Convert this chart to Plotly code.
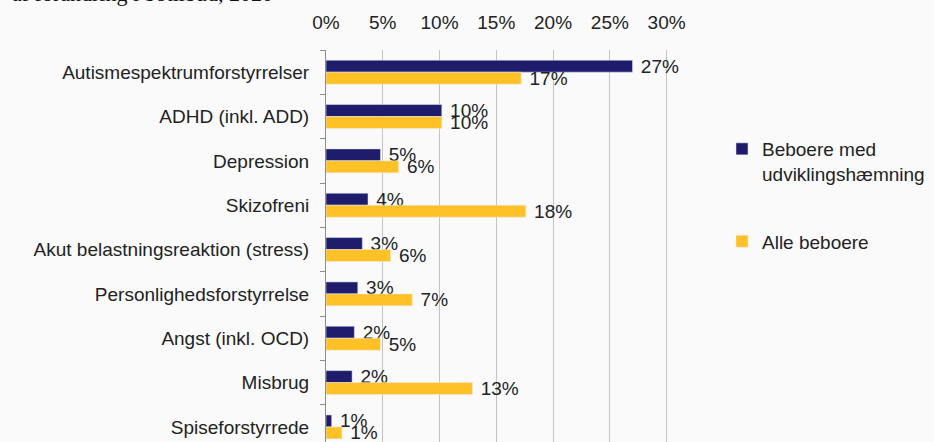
import plotly.graph_objects as go

categories = [
    "Autismespektrumforstyrrelser",
    "ADHD (inkl. ADD)",
    "Depression",
    "Skizofreni",
    "Akut belastningsreaktion (stress)",
    "Personlighedsforstyrrelse",
    "Angst (inkl. OCD)",
    "Misbrug",
    "Spiseforstyrrede",
]
udv_values = [27.0, 10.2, 4.8, 3.7, 3.2, 2.8, 2.5, 2.3, 0.5]
udv_labels = ["27%", "10%", "5%", "4%", "3%", "3%", "2%", "2%", "1%"]
alle_values = [17.2, 10.2, 6.4, 17.6, 5.7, 7.6, 4.8, 12.9, 1.4]
alle_labels = ["17%", "10%", "6%", "18%", "6%", "7%", "5%", "13%", "1%"]
x_ticks = [0, 5, 10, 15, 20, 25, 30]

NAVY = "#1f1d6b"
YELLOW = "#ffc126"
BG = "#fafafa"
FONT = "Liberation Sans, Arial, sans-serif"
FS = 19

W, H = 934, 442
ML, MR, MT, MB = 326, 264, 50, 0
PW, PH = W - ML - MR, H - MT - MB

fig = go.Figure()
fig.add_trace(
    go.Bar(
        y=categories,
        x=udv_values,
        orientation="h",
        name="Beboere med<br>udviklingshæmning",
        marker=dict(color=NAVY),
        text=udv_labels,
        texttemplate="\u00a0%{text}",
        textposition="outside",
        constraintext="none",
        cliponaxis=False,
        textfont=dict(size=FS, color="#222222"),
        legendgroup="a",
    )
)
fig.add_trace(
    go.Bar(
        y=categories,
        x=alle_values,
        orientation="h",
        name="Alle beboere",
        marker=dict(color=YELLOW),
        text=alle_labels,
        texttemplate="\u00a0%{text}",
        textposition="outside",
        constraintext="none",
        cliponaxis=False,
        textfont=dict(size=FS, color="#222222"),
        legendgroup="b",
    )
)

# title of the source figure is cut off at the top edge
fig.add_annotation(
    text="af forandring i botilbud, 2020",
    xref="paper",
    yref="paper",
    x=(10 - ML) / PW,
    y=1 + (MT - 8) / PH,
    xanchor="left",
    yanchor="bottom",
    showarrow=False,
    font=dict(family="Liberation Serif, Times New Roman, serif", size=22, color="#111111"),
)

fig.update_layout(
    width=W,
    height=H,
    margin=dict(l=ML, r=MR, t=MT, b=MB),
    paper_bgcolor=BG,
    plot_bgcolor=BG,
    barmode="group",
    bargap=0.46,
    bargroupgap=0,
    font=dict(family=FONT, size=FS, color="#222222"),
    showlegend=True,
    legend=dict(
        xref="container",
        yref="container",
        x=722 / W,
        y=1 - 130 / H,
        xanchor="left",
        yanchor="top",
        valign="top",
        tracegroupgap=40,
        bgcolor="rgba(0,0,0,0)",
        font=dict(size=FS, color="#222222"),
    ),
)
fig.update_xaxes(
    side="top",
    range=[0, 30.3],
    tickvals=x_ticks,
    ticktext=[f"{v}%" for v in x_ticks],
    showgrid=True,
    gridcolor="#c4c4c4",
    gridwidth=1,
    zeroline=False,
    showline=False,
    ticks="",
    ticklabelstandoff=16,
    tickfont=dict(size=FS),
)
fig.update_yaxes(
    range=[8.34, -0.5],
    showline=True,
    linecolor="#8c8c8c",
    linewidth=1,
    ticks="outside",
    tickson="boundaries",
    ticklen=5,
    tickcolor="#8c8c8c",
    ticklabelstandoff=12,
    showgrid=False,
    tickfont=dict(size=FS),
)

fig.write_html(
    "out.html",
    config={"displayModeBar": False},
    post_script="document.body.style.margin='0';document.body.style.background='%s';" % BG,
)
